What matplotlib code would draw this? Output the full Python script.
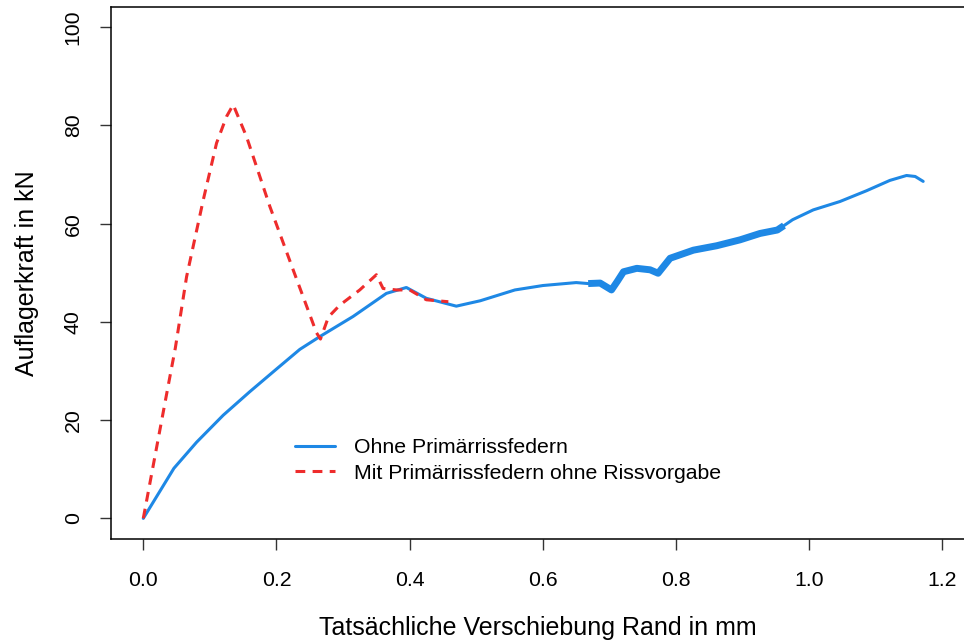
import matplotlib.pyplot as plt

plt.rcParams['font.family'] = ['Liberation Sans', 'DejaVu Sans']

# Ohne Primärrissfedern (x in mm, F in kN)
ohne_x = [0.0, 0.046, 0.08, 0.12, 0.16, 0.2, 0.235, 0.265, 0.315, 0.365, 0.395,
          0.425, 0.47, 0.506, 0.558, 0.6, 0.65, 0.668]
ohne_y = [0.0, 10.2, 15.5, 21.0, 25.8, 30.4, 34.4, 37.0, 41.1, 45.8, 47.0,
          44.8, 43.2, 44.3, 46.5, 47.4, 48.0, 47.8]

# noisy section of the same measurement
ohne_rausch_x = [0.668, 0.686, 0.703, 0.712, 0.721, 0.741, 0.761, 0.773, 0.791,
                 0.826, 0.861, 0.896, 0.926, 0.952, 0.962]
ohne_rausch_y = [47.8, 47.9, 46.5, 48.3, 50.2, 50.9, 50.6, 49.9, 52.95,
                 54.6, 55.5, 56.7, 58.0, 58.7, 59.6]

ohne_end_x = [0.962, 0.975, 1.006, 1.046, 1.086, 1.121, 1.146, 1.159, 1.171]
ohne_end_y = [59.6, 60.8, 62.8, 64.5, 66.7, 68.8, 69.8, 69.6, 68.6]

# Mit Primärrissfedern ohne Rissvorgabe
mit_x = [0.0, 0.0375, 0.048, 0.065, 0.09, 0.11, 0.125, 0.135, 0.155, 0.19,
         0.225, 0.26, 0.266, 0.278, 0.295, 0.325, 0.35, 0.36, 0.38, 0.40,
         0.425, 0.458]
mit_y = [0.0, 27.1, 34.6, 49.2, 64.8, 76.4, 81.8, 84.2, 77.7, 63.5,
         50.6, 37.8, 36.5, 41.0, 43.4, 46.5, 49.6, 46.8, 46.5, 46.5,
         44.5, 44.1]

blue = '#1E88E5'
red = '#EE2C2C'

fig = plt.figure(figsize=(9.64, 6.41), dpi=100)
ax = fig.add_axes([111 / 964, 1 - 539 / 641, (964 - 111) / 964, (539 - 7) / 641])

ax.plot(ohne_x, ohne_y, color=blue, lw=2.2, solid_capstyle='round',
        solid_joinstyle='round', label='Ohne Primärrissfedern')
ax.plot(ohne_rausch_x, ohne_rausch_y, color=blue, lw=5.0, solid_capstyle='butt',
        solid_joinstyle='round')
ax.plot(ohne_end_x, ohne_end_y, color=blue, lw=2.2, solid_capstyle='round',
        solid_joinstyle='round')
ax.plot(mit_x, mit_y, color=red, lw=2.2, dashes=(3.2, 2.4),
        label='Mit Primärrissfedern ohne Rissvorgabe')

ax.set_xlim(-0.0485, 1.2323)
ax.set_ylim(-4.2, 104.1)
ax.set_xticks([0.0, 0.2, 0.4, 0.6, 0.8, 1.0, 1.2])
ax.set_xticklabels(['0.0', '0.2', '0.4', '0.6', '0.8', '1.0', '1.2'])
ax.set_yticks([0, 20, 40, 60, 80, 100])
for lab in ax.get_yticklabels():
    lab.set_rotation(90)
    lab.set_va('center')

ax.tick_params(direction='out', length=8, width=1, labelsize=15.3, color='#333333')
ax.tick_params(axis='x', pad=15)
ax.tick_params(axis='y', pad=12.3)
for side in ['left', 'bottom', 'top']:
    ax.spines[side].set_linewidth(1.1)
ax.spines['right'].set_visible(False)

ax.set_xlabel('Tatsächliche Verschiebung Rand in mm', fontsize=18, labelpad=19)
ax.set_ylabel('Auflagerkraft in kN', fontsize=18, labelpad=17.5)

ax.legend(loc='upper left', bbox_to_anchor=(295 / 964, 1 - 438 / 641),
          bbox_transform=fig.transFigure, frameon=False, fontsize=15.3,
          borderpad=0, borderaxespad=0, handlelength=1.88, handletextpad=0.9,
          labelspacing=0.31)

fig.savefig('out.png', dpi=100)
